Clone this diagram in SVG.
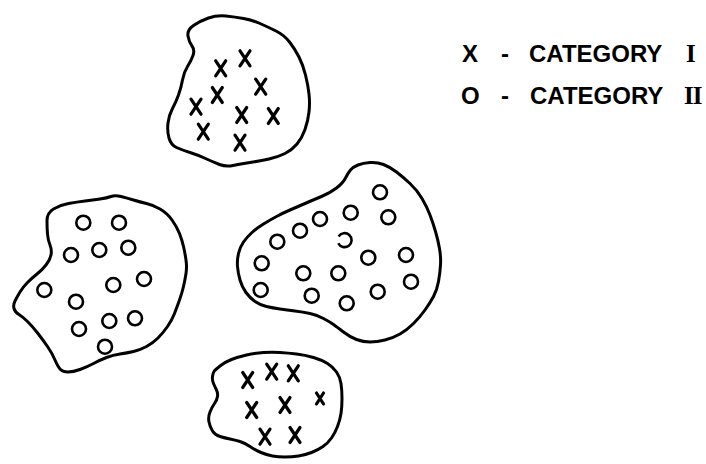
<svg xmlns="http://www.w3.org/2000/svg" xmlns:xlink="http://www.w3.org/1999/xlink" width="706" height="464" viewBox="0 0 706 464">
<style>
.blob{fill:none;stroke:#000;stroke-width:3;stroke-linejoin:round;stroke-linecap:round}
.x{fill:none;stroke:#000;stroke-width:3.2;stroke-linecap:round}
.o{fill:none;stroke:#000;stroke-width:2.6}
.lg{font-family:"Liberation Sans",Arial,sans-serif;font-weight:bold;font-size:24px;fill:#000}
.rn{font-family:"Liberation Serif","Times New Roman",serif;font-weight:bold;font-size:25px}
</style>
<defs>
<path id="xm" class="x" d="M-5,-7.5 L5,7.5 M5,-7.5 L-5,7.5"/>
<circle id="om" class="o" r="7"/>
</defs>
<rect width="706" height="464" fill="#fff"/>
<g id="connectors"/>
<g id="cluster-top">
<path class="blob" d="M188,36 Q187,30 193.5,25.5 Q200,21 208.5,18 Q217,15 226,16 Q235,17 243.5,18.5 Q252,20 260,23.5 Q268,27 276,31 Q284,35 289.5,42 Q295,49 299,57 Q303,65 305.5,75 Q308,85 309,94 Q310,103 309,112 Q308,121 305,129.5 Q302,138 297,144 Q292,150 285,153.5 Q278,157 269,159 Q260,161 250,162.5 Q240,164 233,165.5 Q226,167 219.5,164.5 Q213,162 205.5,158.5 Q198,155 190,152.5 Q182,150 176.5,147.5 Q171,145 169,138 Q167,131 168,123 Q169,115 172.5,108.5 Q176,102 178.5,95 Q181,88 182.5,80 Q184,72 187.5,66.5 Q191,61 193,55.5 Q195,50 192,46 Q189,42 188,36 Z"/>
<use xlink:href="#xm" x="220.7" y="68.3"/>
<use xlink:href="#xm" x="245" y="58.3"/>
<use xlink:href="#xm" x="260.7" y="86.7"/>
<use xlink:href="#xm" x="217.3" y="95"/>
<use xlink:href="#xm" x="196" y="106.7"/>
<use xlink:href="#xm" x="241.7" y="115"/>
<use xlink:href="#xm" x="273.3" y="116"/>
<use xlink:href="#xm" x="203.3" y="131.7"/>
<use xlink:href="#xm" x="240" y="142.7"/>
</g>
<g id="cluster-left">
<path class="blob" d="M47,220.5 Q47,213 53.5,209 Q60,205 68.5,203.5 Q77,202 85,201 Q93,200 100,199 Q107,198 111,196.5 Q115,195 121,196.5 Q127,198 133.5,200 Q140,202 146.5,203.5 Q153,205 160,209 Q167,213 172,220 Q177,227 179.5,233.5 Q182,240 183.5,246.5 Q185,253 186,260 Q187,267 186,273.5 Q185,280 183.5,286.5 Q182,293 179.5,300 Q177,307 174.5,313.5 Q172,320 167.5,326.5 Q163,333 158,338 Q153,343 146.5,346.5 Q140,350 133.5,351.5 Q127,353 120,354 Q113,355 106.5,357.5 Q100,360 93.5,363.5 Q87,367 80,369.5 Q73,372 68,372 Q63,372 60.5,369.5 Q58,367 55,360 Q52,353 47.5,346.5 Q43,340 38,333.5 Q33,327 28,322 Q23,317 19,314.5 Q15,312 14,308.5 Q13,305 15,301 Q17,297 20,292 Q23,287 27.5,282.5 Q32,278 37,274 Q42,270 46,265 Q50,260 51,255 Q52,250 50,245 Q48,240 47.5,234 Q47,228 47,220.5 Z"/>
<use xlink:href="#om" x="83.3" y="222.7"/>
<use xlink:href="#om" x="119" y="222.7"/>
<use xlink:href="#om" x="71" y="255"/>
<use xlink:href="#om" x="99.3" y="250"/>
<use xlink:href="#om" x="128.3" y="247.7"/>
<use xlink:href="#om" x="44.3" y="290"/>
<use xlink:href="#om" x="113.3" y="285"/>
<use xlink:href="#om" x="144" y="279"/>
<use xlink:href="#om" x="76" y="301.7"/>
<use xlink:href="#om" x="79" y="329"/>
<use xlink:href="#om" x="109.3" y="321"/>
<use xlink:href="#om" x="135" y="318.3"/>
<use xlink:href="#om" x="105" y="346.7"/>
</g>
<g id="cluster-right">
<path class="blob" d="M350.5,170 Q353,167 358,165 Q363,163 370,162.5 Q377,162 383.5,164.5 Q390,167 396.5,172 Q403,177 410,183.5 Q417,190 422,198.5 Q427,207 430,215 Q433,223 435.5,231.5 Q438,240 439.5,248.5 Q441,257 440.5,265 Q440,273 438.5,281.5 Q437,290 433.5,296.5 Q430,303 425,310 Q420,317 413.5,323.5 Q407,330 400,334 Q393,338 385,340 Q377,342 370,342 Q363,342 356.5,339.5 Q350,337 343.5,332 Q337,327 333.5,324.5 Q330,322 323.5,318.5 Q317,315 310,313.5 Q303,312 295,311 Q287,310 280,309 Q273,308 266.5,306.5 Q260,305 255,301.5 Q250,298 246,292.5 Q242,287 240,280 Q238,273 237.5,266.5 Q237,260 238.5,253.5 Q240,247 243.5,242 Q247,237 252,232.5 Q257,228 263.5,224 Q270,220 276.5,216.5 Q283,213 290,210 Q297,207 305,203.5 Q313,200 321.5,196.5 Q330,193 336.5,188 Q343,183 345.5,178 Q348,173 350.5,170 Z"/>
<use xlink:href="#om" x="380" y="192.3"/>
<use xlink:href="#om" x="350.7" y="212.7"/>
<use xlink:href="#om" x="388.3" y="217.3"/>
<use xlink:href="#om" x="320" y="219"/>
<use xlink:href="#om" x="300" y="230.7"/>
<use xlink:href="#om" x="277.3" y="241.7"/>
<path class="o" d="M338.6,236.5 A7 7 0 1 1 338.3,243.2"/>
<use xlink:href="#om" x="368.3" y="257.7"/>
<use xlink:href="#om" x="406" y="255"/>
<use xlink:href="#om" x="261.7" y="263.3"/>
<use xlink:href="#om" x="303.3" y="273.3"/>
<use xlink:href="#om" x="338.3" y="273.3"/>
<use xlink:href="#om" x="411" y="281.7"/>
<use xlink:href="#om" x="260.7" y="290"/>
<use xlink:href="#om" x="311.7" y="295.7"/>
<use xlink:href="#om" x="377.7" y="291.7"/>
<use xlink:href="#om" x="346.7" y="303.3"/>
</g>
<g id="cluster-bottom">
<path class="blob" d="M214,371.5 Q215,370 220,366 Q225,362 231.5,359.5 Q238,357 246.5,355 Q255,353 263.5,352.5 Q272,352 280,352.5 Q288,353 296.5,354 Q305,355 313.5,357.5 Q322,360 327.5,363.5 Q333,367 336.5,372 Q340,377 341,383.5 Q342,390 342,398.5 Q342,407 341,413.5 Q340,420 337.5,426.5 Q335,433 331.5,438 Q328,443 323,446.5 Q318,450 311.5,452.5 Q305,455 298.5,456 Q292,457 285,457 Q278,457 272.5,456 Q267,455 261,452.5 Q255,450 250,446.5 Q245,443 240,441.5 Q235,440 230,439 Q225,438 220,436.5 Q215,435 212.5,431 Q210,427 209,422 Q208,417 210,412 Q212,407 214.5,403.5 Q217,400 217.5,396.5 Q218,393 216.5,390 Q215,387 213.5,383.5 Q212,380 212.5,376.5 Q213,373 214,371.5 Z"/>
<use xlink:href="#xm" x="247.7" y="380"/>
<use xlink:href="#xm" x="271.7" y="371.7"/>
<use xlink:href="#xm" x="293.3" y="373.3"/>
<path class="x" stroke-width="2.6" d="M316.5,393 L323.5,404 M323.5,393 L316.5,404"/>
<use xlink:href="#xm" x="251.7" y="410"/>
<use xlink:href="#xm" x="285" y="405"/>
<use xlink:href="#xm" x="265" y="436.7"/>
<use xlink:href="#xm" x="295" y="435"/>
</g>
<g id="legend">
<text class="lg" y="62"><tspan x="462">X</tspan> <tspan x="501">-</tspan> <tspan x="529">CATEGORY</tspan> <tspan x="686" class="rn">I</tspan></text>
<text class="lg" y="104"><tspan x="461">O</tspan> <tspan x="501">-</tspan> <tspan x="530">CATEGORY</tspan> <tspan x="684" class="rn" letter-spacing="-1">II</tspan></text>
</g>
</svg>
